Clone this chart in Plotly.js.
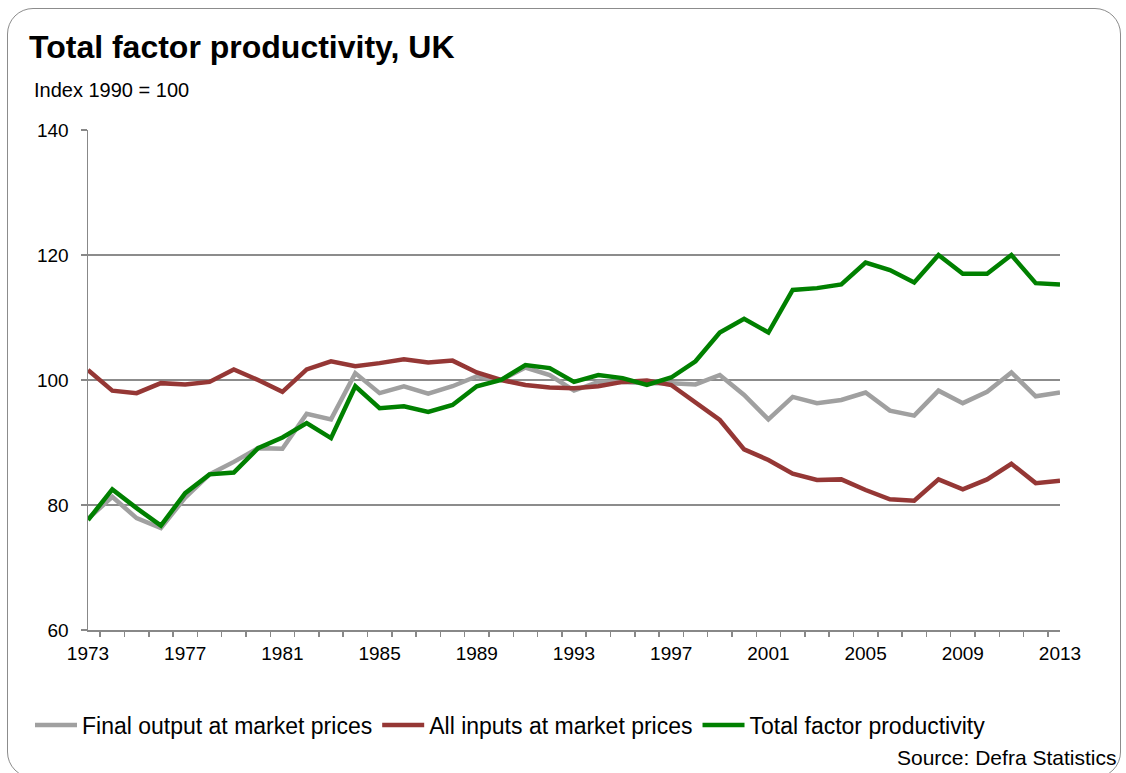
<!DOCTYPE html>
<html>
<head>
<meta charset="utf-8">
<script src="https://cdn.plot.ly/plotly-3.0.1.min.js"></script>
<style>
  html, body { margin:0; padding:0; background:#fff; }
  #wrap { position:relative; width:1126px; height:773px; }
  #chart { width:1126px; height:773px; }
  #frame { position:absolute; left:7px; top:8px; width:1114px; height:770px; border:1.5px solid #8c8c8c; border-radius:26px; pointer-events:none; box-sizing:border-box; }
</style>
</head>
<body>
<div id="wrap">
  <div id="chart"></div>
  <div id="frame"></div>
</div>
<script>
const years = [1973,1974,1975,1976,1977,1978,1979,1980,1981,1982,1983,1984,1985,1986,1987,1988,1989,1990,1991,1992,1993,1994,1995,1996,1997,1998,1999,2000,2001,2002,2003,2004,2005,2006,2007,2008,2009,2010,2011,2012,2013];
const finalOutput = [77.8,81.3,77.9,76.3,81.2,84.9,86.9,89.1,89.0,94.6,93.7,101.1,97.9,99.0,97.8,99.0,100.6,100.0,102.0,100.8,98.3,99.7,99.7,99.5,99.5,99.3,100.8,97.6,93.7,97.3,96.3,96.8,98.0,95.1,94.3,98.3,96.3,98.1,101.2,97.4,98.0];
const allInputs = [101.6,98.3,97.9,99.5,99.3,99.7,101.7,100.0,98.1,101.7,103.0,102.2,102.7,103.3,102.8,103.1,101.2,100.0,99.2,98.8,98.7,99.0,99.7,99.9,99.2,96.3,93.6,88.9,87.2,85.0,84.0,84.1,82.4,80.9,80.7,84.1,82.5,84.1,86.6,83.5,83.9];
const tfp = [77.6,82.5,79.5,76.7,81.9,84.9,85.2,89.1,90.8,93.1,90.7,99.0,95.5,95.8,94.9,96.0,99.0,100.0,102.4,101.9,99.7,100.8,100.3,99.2,100.4,103.0,107.6,109.8,107.6,114.4,114.7,115.3,118.8,117.6,115.6,120.0,117.0,117.0,120.0,115.5,115.3];
const seriesNames = ['Final output at market prices','All inputs at market prices','Total factor productivity'];
const titleText = 'Total factor productivity, UK';
const unitText = 'Index 1990 = 100';
const sourceText = 'Source: Defra Statistics';

const FONT = 'Liberation Sans, Arial, sans-serif';
const colors = ['#a0a0a0','#953735','#008000'];
const data = [finalOutput, allInputs, tfp].map((v,i)=>({
  x: years, y: v, type:'scatter', mode:'lines', name: seriesNames[i],
  line:{color:colors[i], width:4.5}
}));

const layout = {
  width:1126, height:773,
  paper_bgcolor:'rgba(0,0,0,0)', plot_bgcolor:'#fff',
  margin:{l:88, r:66, t:130, b:143},
  font:{family:FONT, color:'#000'},
  title:{text:'<b>'+titleText+'</b>', font:{family:FONT, size:32, color:'#000'}, xref:'container', yref:'container', x:29/1126, xanchor:'left', y:1-47/773, yanchor:'middle'},
  xaxis:{
    range:[1973,2013], tick0:1973, dtick:4, tickmode:'linear',
    ticks:'', ticklabelstandoff:6,
    minor:{dtick:1, tick0:1973.5, ticks:'outside', ticklen:5, tickcolor:'#888', tickwidth:1.5, showgrid:false},
    showgrid:false, zeroline:false, showline:true, linecolor:'#888', linewidth:1.5,
    tickfont:{family:FONT, size:19, color:'#000'}, fixedrange:true
  },
  yaxis:{
    range:[60,140], dtick:20, tick0:60, tickmode:'linear',
    ticks:'outside', ticklen:6, tickcolor:'#888', tickwidth:1.5, ticklabelstandoff:8,
    showgrid:true, gridcolor:'#8c8c8c', gridwidth:1.5,
    zeroline:false, showline:true, linecolor:'#888', linewidth:1.5,
    tickfont:{family:FONT, size:19, color:'#000'}, fixedrange:true
  },
  showlegend:true,
  legend:{orientation:'h', xref:'container', yref:'container', x:30/1126, xanchor:'left', y:(773-725)/773, yanchor:'middle',
    font:{family:FONT, size:23, color:'#000'}, itemwidth:42, traceorder:'normal', bgcolor:'rgba(0,0,0,0)', tracegroupgap:0},
  annotations:[
    {text:unitText, xref:'paper', yref:'paper', x:(32-88)/972, y:1+(130-90)/500, xanchor:'left', yanchor:'middle', showarrow:false, font:{family:FONT, size:20, color:'#000'}},
    {text:sourceText, xref:'paper', yref:'paper', x:(1118-88)/972, y:-(757-630)/500, xanchor:'right', yanchor:'middle', showarrow:false, font:{family:FONT, size:21, color:'#000'}}
  ]
};
Plotly.newPlot('chart', data, layout, {displayModeBar:false, staticPlot:true});
</script>
</body>
</html>
